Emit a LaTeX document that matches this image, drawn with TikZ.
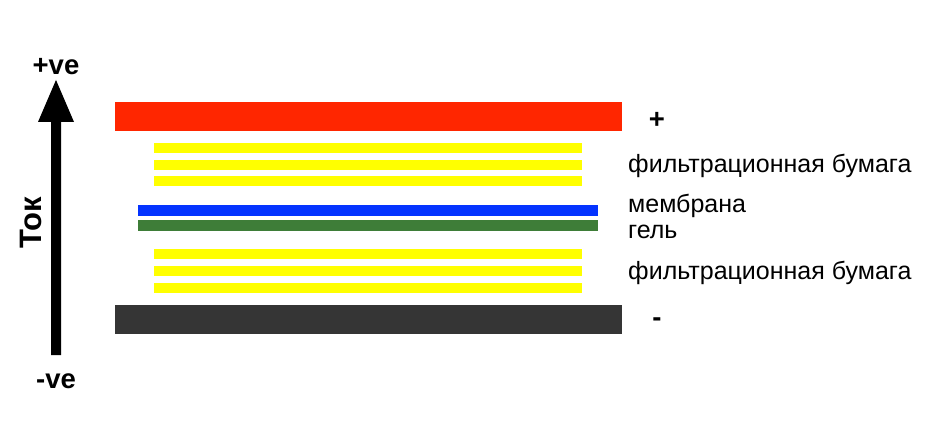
\documentclass[tikz,border=0pt]{standalone}
\usepackage{fontspec}
\setmainfont{Liberation Sans}
\definecolor{redbar}{HTML}{FF2600}
\definecolor{yellowbar}{HTML}{FFFF00}
\definecolor{bluebar}{HTML}{0433FF}
\definecolor{greenbar}{HTML}{3E7D38}
\definecolor{darkbar}{HTML}{353535}
\begin{document}
\begin{tikzpicture}[x=1pt,y=-1pt,
  lbl/.style={font=\fontsize{25}{27}\selectfont, anchor=base west, inner sep=0pt},
  blbl/.style={font=\fontsize{27.5}{29}\selectfont\bfseries, inner sep=0pt}]
\useasboundingbox (0,0) rectangle (938,441);
% electrodes
\fill[redbar] (115,102) rectangle (622,131);
\fill[darkbar] (115,305) rectangle (622,334);
% filter paper top
\foreach \y in {143,160,176} \fill[yellowbar] (154,\y) rectangle (582,\y+10);
% membrane & gel
\fill[bluebar] (138,205) rectangle (598,216);
\fill[greenbar] (138,220) rectangle (598,231);
% filter paper bottom
\foreach \y in {249,266,283} \fill[yellowbar] (154,\y) rectangle (582,\y+10);
% arrow
\coordinate (abot) at (56,355);
\coordinate (atip) at (56,80);
\fill[black] (51,355) -- (51,122) -- (38,122) -- (atip) -- (74,122) -- (61,122) -- (61,355) -- cycle;
\node[blbl] (pos) at (56,67) {+ve};
\node[blbl] (neg) at (56,381) {-ve};
\node[blbl, rotate=90, font=\fontsize{31}{32}\selectfont\bfseries] (tok) at (31,223) {Ток};
% labels
\node[blbl] (plus) at (657,120) {+};
\node[blbl] (minus) at (657,322) {-};
\node[lbl] (fp1) at (628,173) {фильтрационная бумага};
\node[lbl] (mem) at (628,213) {мембрана};
\node[lbl] (gel) at (628,238) {гель};
\node[lbl] (fp2) at (628,279) {фильтрационная бумага};
\end{tikzpicture}
\end{document}
